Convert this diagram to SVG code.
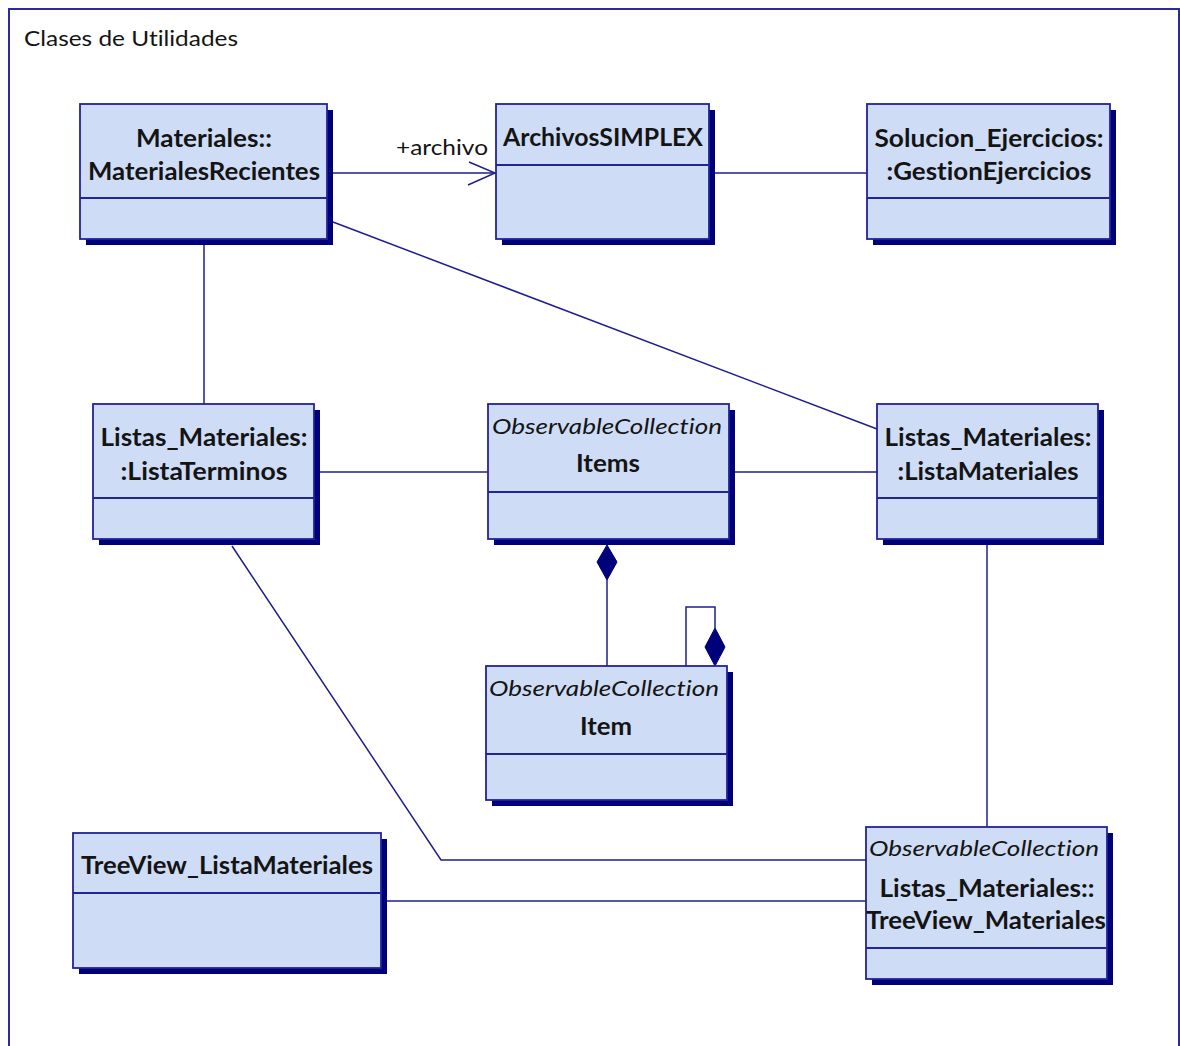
<svg xmlns="http://www.w3.org/2000/svg" width="1180" height="1046" viewBox="0 0 1180 1046">
  <style>
    .frame { fill: #ffffff; stroke: #2b2b9c; stroke-width: 2; }
    .shadow { fill: #00007a; }
    .box { fill: #cfdcf6; stroke: #23239a; stroke-width: 1.8; }
    .div { stroke: #23239a; stroke-width: 1.8; }
    .conn { fill: none; stroke: #1e1e8e; stroke-width: 1.5; }
    .dia { fill: #00007a; stroke: #00007a; stroke-width: 1; }
    .t { font-family: Lato, "Open Sans", "Liberation Sans", sans-serif; fill: #141414;
         font-variant-ligatures: none; font-feature-settings: "liga" 0, "clig" 0; }
    .nm { font-weight: bold; font-size: 24px; text-anchor: middle; }
    .st { font-style: italic; font-size: 22px; text-anchor: middle; }
    .lbl { font-size: 22px; }
  </style>

  <!-- package frame -->
  <rect class="frame" x="9" y="9" width="1170" height="1060"/>
  <text class="t lbl" x="24" y="46" textLength="214" lengthAdjust="spacingAndGlyphs">Clases de Utilidades</text>

  <!-- connectors -->
  <g id="connectors">
    <!-- MaterialesRecientes -> ArchivosSIMPLEX (navigable) -->
    <line class="conn" x1="333" y1="173" x2="495" y2="173"/>
    <polyline class="conn" points="469,162 495,173 468,185"/>
    <text class="t lbl" x="396" y="155" textLength="92" lengthAdjust="spacingAndGlyphs">+archivo</text>
    <!-- ArchivosSIMPLEX - GestionEjercicios -->
    <line class="conn" x1="715" y1="173" x2="867" y2="173"/>
    <!-- MaterialesRecientes - ListaTerminos -->
    <line class="conn" x1="204" y1="245" x2="204" y2="404"/>
    <!-- MaterialesRecientes - ListaMateriales -->
    <line class="conn" x1="333" y1="222" x2="877" y2="429"/>
    <!-- ListaTerminos - Items -->
    <line class="conn" x1="320" y1="472" x2="488" y2="472"/>
    <!-- Items - ListaMateriales -->
    <line class="conn" x1="735" y1="472" x2="877" y2="472"/>
    <!-- Items <>- Item (composition) -->
    <line class="conn" x1="607" y1="580" x2="607" y2="666"/>
    <polygon class="dia" points="607,545 617,562 607,580 597,562"/>
    <!-- Item self composition -->
    <polyline class="conn" points="686,666 686,607 715,607 715,628"/>
    <polygon class="dia" points="715,628 725,647 715,666 705,647"/>
    <!-- ListaMateriales - TreeView_Materiales -->
    <line class="conn" x1="987" y1="545" x2="987" y2="827"/>
    <!-- ListaTerminos - TreeView_Materiales -->
    <polyline class="conn" points="232,546 441,860 866,860"/>
    <!-- TreeView_ListaMateriales - TreeView_Materiales -->
    <line class="conn" x1="387" y1="901" x2="866" y2="901"/>
  </g>

  <g id="node-materiales-recientes">
    <rect class="shadow" x="86" y="110" width="247" height="135"/>
    <rect class="box" x="80" y="104" width="247" height="135"/>
    <line class="div" x1="80" y1="198" x2="327" y2="198"/>
    <text class="t nm" x="204" y="147" textLength="136" lengthAdjust="spacingAndGlyphs">Materiales::</text>
    <text class="t nm" x="204" y="180" textLength="232" lengthAdjust="spacingAndGlyphs">MaterialesRecientes</text>
  </g>

  <g id="node-archivos-simplex">
    <rect class="shadow" x="502" y="110" width="213" height="135"/>
    <rect class="box" x="496" y="104" width="213" height="135"/>
    <line class="div" x1="496" y1="165" x2="709" y2="165"/>
    <text class="t nm" x="603" y="146" textLength="200" lengthAdjust="spacingAndGlyphs">ArchivosSIMPLEX</text>
  </g>

  <g id="node-gestion-ejercicios">
    <rect class="shadow" x="873" y="110" width="243" height="135"/>
    <rect class="box" x="867" y="104" width="243" height="135"/>
    <line class="div" x1="867" y1="198" x2="1110" y2="198"/>
    <text class="t nm" x="989" y="147" textLength="229" lengthAdjust="spacingAndGlyphs">Solucion_Ejercicios:</text>
    <text class="t nm" x="989" y="180" textLength="205" lengthAdjust="spacingAndGlyphs">:GestionEjercicios</text>
  </g>

  <g id="node-lista-terminos">
    <rect class="shadow" x="99" y="410" width="221" height="135"/>
    <rect class="box" x="93" y="404" width="221" height="135"/>
    <line class="div" x1="93" y1="498" x2="314" y2="498"/>
    <text class="t nm" x="204" y="446" textLength="207" lengthAdjust="spacingAndGlyphs">Listas_Materiales:</text>
    <text class="t nm" x="204" y="480" textLength="167" lengthAdjust="spacingAndGlyphs">:ListaTerminos</text>
  </g>

  <g id="node-items">
    <rect class="shadow" x="494" y="410" width="241" height="135"/>
    <rect class="box" x="488" y="404" width="241" height="135"/>
    <line class="div" x1="488" y1="492" x2="729" y2="492"/>
    <text class="t st" x="607" y="434" textLength="230" lengthAdjust="spacingAndGlyphs">ObservableCollection</text>
    <text class="t nm" x="608" y="472" textLength="64" lengthAdjust="spacingAndGlyphs">Items</text>
  </g>

  <g id="node-lista-materiales">
    <rect class="shadow" x="883" y="410" width="221" height="135"/>
    <rect class="box" x="877" y="404" width="221" height="135"/>
    <line class="div" x1="877" y1="498" x2="1098" y2="498"/>
    <text class="t nm" x="988" y="446" textLength="207" lengthAdjust="spacingAndGlyphs">Listas_Materiales:</text>
    <text class="t nm" x="988" y="480" textLength="181" lengthAdjust="spacingAndGlyphs">:ListaMateriales</text>
  </g>

  <g id="node-item">
    <rect class="shadow" x="492" y="672" width="241" height="134"/>
    <rect class="box" x="486" y="666" width="241" height="134"/>
    <line class="div" x1="486" y1="754" x2="727" y2="754"/>
    <text class="t st" x="604" y="696" textLength="230" lengthAdjust="spacingAndGlyphs">ObservableCollection</text>
    <text class="t nm" x="606" y="735" textLength="52" lengthAdjust="spacingAndGlyphs">Item</text>
  </g>

  <g id="node-treeview-lista-materiales">
    <rect class="shadow" x="79" y="839" width="308" height="135"/>
    <rect class="box" x="73" y="833" width="308" height="135"/>
    <line class="div" x1="73" y1="893" x2="381" y2="893"/>
    <text class="t nm" x="227" y="874" textLength="292" lengthAdjust="spacingAndGlyphs">TreeView_ListaMateriales</text>
  </g>

  <g id="node-treeview-materiales">
    <rect class="shadow" x="872" y="833" width="241" height="152"/>
    <rect class="box" x="866" y="827" width="241" height="152"/>
    <line class="div" x1="866" y1="948" x2="1107" y2="948"/>
    <text class="t st" x="984" y="856" textLength="230" lengthAdjust="spacingAndGlyphs">ObservableCollection</text>
    <text class="t nm" x="987" y="897" textLength="215" lengthAdjust="spacingAndGlyphs">Listas_Materiales::</text>
    <text class="t nm" x="986" y="929" textLength="240" lengthAdjust="spacingAndGlyphs">TreeView_Materiales</text>
  </g>
</svg>
